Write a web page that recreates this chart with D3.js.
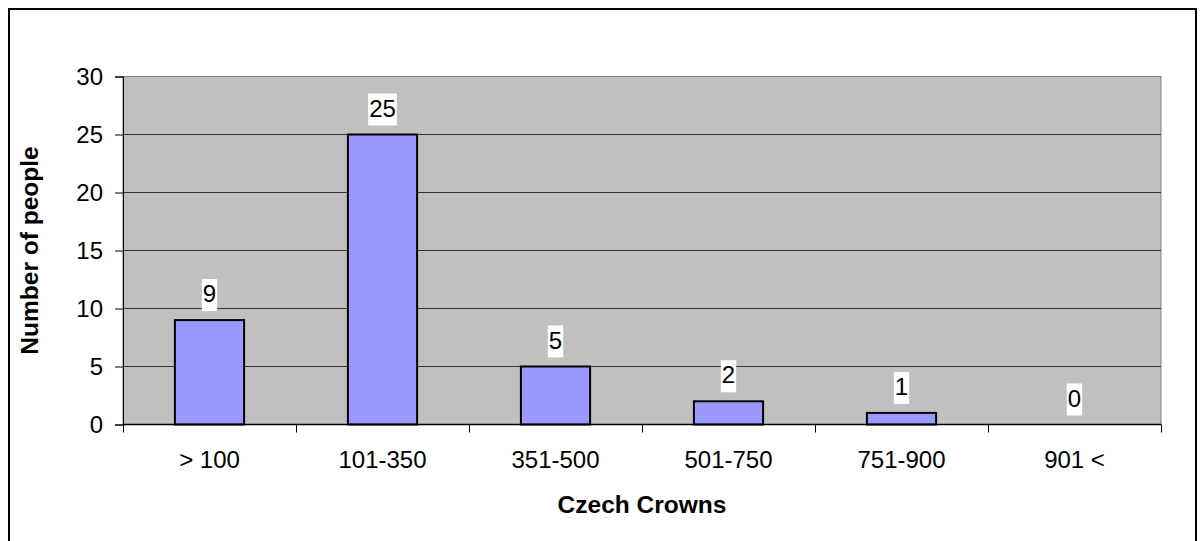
<!DOCTYPE html>
<html>
<head>
<meta charset="utf-8">
<script src="https://cdn.jsdelivr.net/npm/d3@7"></script>
<style>
    html, body { margin: 0; padding: 0; background: #fff; }
    svg text { font-family: Arial, "Liberation Sans", sans-serif; }
</style>
</head>
<body>
<svg id="chart"></svg>
<script>
const categories = ['> 100', '101-350', '351-500', '501-750', '751-900', '901 <'];
const counts = [9, 25, 5, 2, 1, 0];
const yTicks = [0, 5, 10, 15, 20, 25, 30];
const xTitle = 'Czech Crowns';
const yTitle = 'Number of people';

(function () {
    const width = 1202, height = 541;
    const plot = {left: 123, top: 76.5, right: 1161, bottom: 424.5};

    const svg = d3.select('#chart')
        .attr('width', width)
        .attr('height', height);

    // outer chart frame (bottom edge falls outside the picture)
    svg.append('rect')
        .attr('x', 9).attr('y', 9)
        .attr('width', 1187).attr('height', 540)
        .attr('fill', 'none')
        .attr('stroke', '#000')
        .attr('stroke-width', 2);

    const x = d3.scaleBand()
        .domain(categories)
        .range([plot.left, plot.right])
        .paddingInner(0.6)
        .paddingOuter(0.3);

    const y = d3.scaleLinear()
        .domain([0, 30])
        .range([plot.bottom, plot.top]);

    // plot area
    svg.append('rect')
        .attr('x', plot.left).attr('y', plot.top)
        .attr('width', plot.right - plot.left)
        .attr('height', plot.bottom - plot.top)
        .attr('fill', '#c0c0c0')
        .attr('stroke', '#808080')
        .attr('stroke-width', 1);

    // gridlines
    svg.append('g')
        .selectAll('line')
        .data(yTicks.filter(d => d > 0 && d < 30))
        .enter()
        .append('line')
        .attr('x1', plot.left).attr('x2', plot.right)
        .attr('y1', d => y(d)).attr('y2', d => y(d))
        .attr('stroke', '#333')
        .attr('stroke-width', 1);

    // bars
    svg.append('g')
        .selectAll('rect')
        .data(counts)
        .enter()
        .append('rect')
        .attr('x', (d, i) => x(categories[i]))
        .attr('y', d => y(d))
        .attr('width', x.bandwidth())
        .attr('height', d => y(0) - y(d))
        .attr('fill', '#9999ff')
        .attr('stroke', '#000')
        .attr('stroke-width', 2);

    // y axis
    const yAxis = svg.append('g')
        .attr('transform', `translate(${plot.left},0)`)
        .call(d3.axisLeft(y).tickValues(yTicks).tickSize(8).tickPadding(12));
    yAxis.select('.domain').attr('stroke', '#000').attr('stroke-width', 1);
    yAxis.selectAll('.tick line').attr('stroke', '#000');
    yAxis.selectAll('.tick text')
        .attr('font-size', 24)
        .attr('fill', '#000')
        .attr('font-family', 'Arial, "Liberation Sans", sans-serif');

    // x axis: ticks sit on category boundaries
    const step = x.step();
    const boundaries = d3.range(categories.length + 1).map(i => plot.left + i * step);
    const xAxis = svg.append('g');
    xAxis.append('line')
        .attr('x1', plot.left).attr('x2', plot.right)
        .attr('y1', plot.bottom).attr('y2', plot.bottom)
        .attr('stroke', '#000').attr('stroke-width', 1.5);
    xAxis.selectAll('.btick')
        .data(boundaries)
        .enter()
        .append('line')
        .attr('class', 'btick')
        .attr('x1', d => Math.round(d) + 0.5).attr('x2', d => Math.round(d) + 0.5)
        .attr('y1', plot.bottom).attr('y2', plot.bottom + 8)
        .attr('stroke', '#000');
    xAxis.selectAll('.xlabel')
        .data(categories)
        .enter()
        .append('text')
        .attr('class', 'xlabel')
        .attr('x', d => x(d) + x.bandwidth() / 2)
        .attr('y', 468)
        .attr('text-anchor', 'middle')
        .attr('font-size', 24)
        .text(d => d);

    // value labels with white background
    const labels = svg.append('g')
        .selectAll('g')
        .data(counts)
        .enter()
        .append('g');
    labels.append('text')
        .attr('x', (d, i) => x(categories[i]) + x.bandwidth() / 2)
        .attr('y', d => y(d) - 18)
        .attr('text-anchor', 'middle')
        .attr('font-size', 24)
        .text(d => d);
    labels.each(function (d) {
        const g = d3.select(this);
        const box = g.select('text').node().getBBox();
        const base = y(d) - 18;
        g.insert('rect', 'text')
            .attr('x', box.x - 1)
            .attr('y', base - 23)
            .attr('width', box.width + 2)
            .attr('height', 32)
            .attr('fill', '#fff');
    });

    // axis titles
    svg.append('text')
        .attr('x', (plot.left + plot.right) / 2)
        .attr('y', 513)
        .attr('text-anchor', 'middle')
        .attr('font-size', 24.5)
        .attr('font-weight', 'bold')
        .text(xTitle);

    svg.append('text')
        .attr('transform', `translate(37.5,${(plot.top + plot.bottom) / 2}) rotate(-90)`)
        .attr('text-anchor', 'middle')
        .attr('font-size', 24.5)
        .attr('font-weight', 'bold')
        .text(yTitle);
})();
</script>
</body>
</html>
